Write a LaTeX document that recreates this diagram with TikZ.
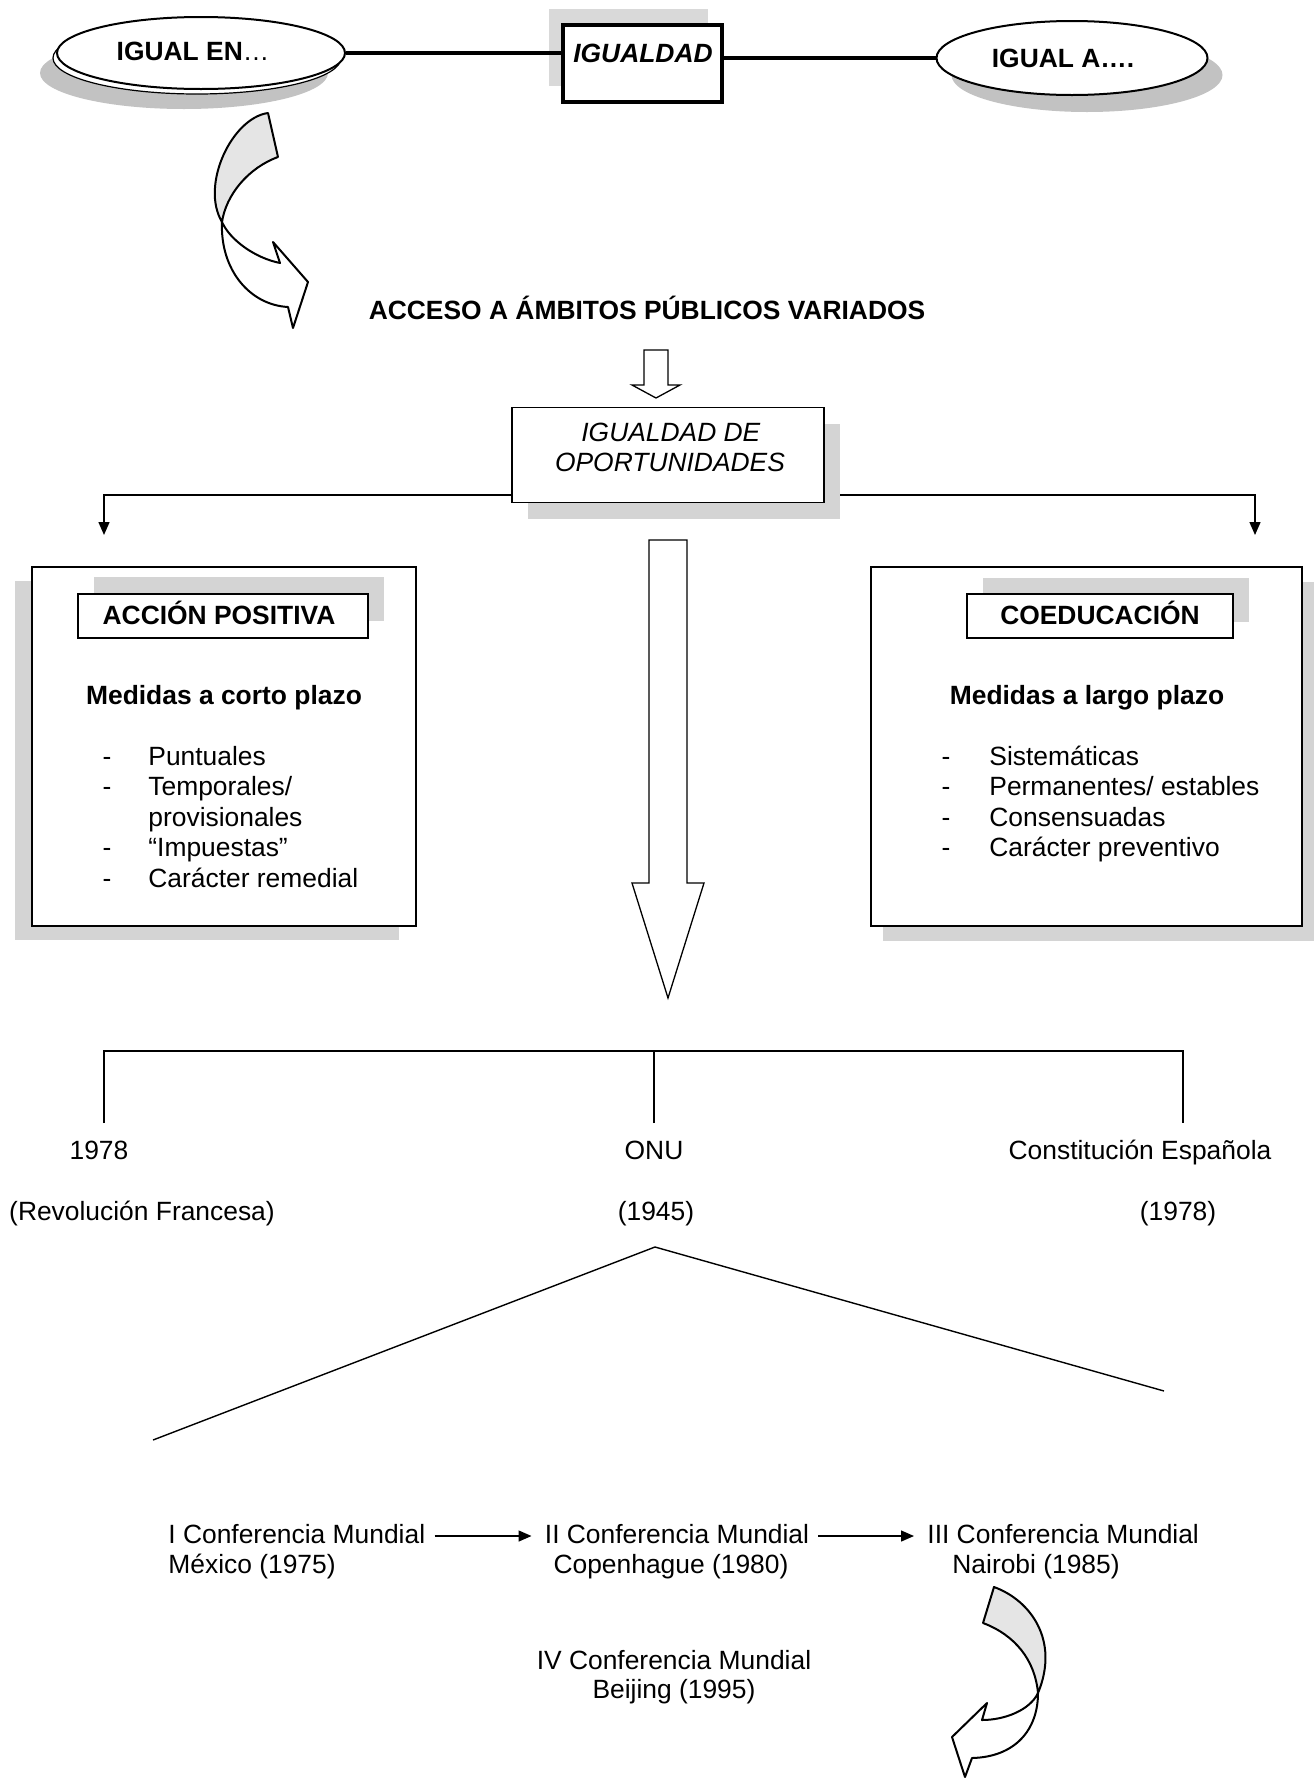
\documentclass[tikz,border=0pt]{standalone}
\usepackage{fontspec}
\setmainfont{Liberation Sans}
\usetikzlibrary{shapes.geometric,arrows.meta,calc}

\begin{document}
\begin{tikzpicture}[x=0.5pt,y=-0.5pt,
  every node/.style={font=\fontsize{13.2pt}{15.25pt}\selectfont},
  ln/.style={inner sep=0pt,text height=0.72em,text depth=0pt},
  darkshade/.style={fill=gray!48,draw=none},
  softshade/.style={fill=gray!34,draw=none},
  oval/.style={ellipse,draw,fill=white,line width=1pt,inner sep=0pt},
  frame/.style={draw,line width=0.9pt,fill=white,inner sep=0pt},
  link/.style={line width=1.7pt},
  fine/.style={line width=0.7pt},
  tip/.style={-{Triangle[length=6.5pt,width=5.5pt]}},
  ribbon/.style={draw,line width=1pt,line join=round},
  blockarrow/.style={draw,line width=0.65pt,fill=white,line join=miter}
]
% page
\fill[white] (0,0) rectangle (1313,1778);
\useasboundingbox (0,0) rectangle (1313,1778);

% ---------- top row ----------
\node[ellipse,darkshade,minimum width=144pt,minimum height=36pt,inner sep=0pt] (ienS) at (184,73) {};
\node[oval,line width=0.6pt,minimum width=144pt,minimum height=36pt] (ienR) at (197,58) {};
\node[oval,minimum width=144pt,minimum height=36pt] (ien) at (201,53) {};
\node[ln] (ienT) at (193,53) {\textbf{IGUAL EN}…};

\fill[gray!30] (549,9) rectangle (708,86);
\node[draw,line width=2pt,fill=white,minimum width=79.5pt,minimum height=38.5pt,inner sep=0pt] (ig) at (642.5,63.5) {};
\node[ln] (igT) at (643,55) {\textbf{\textit{IGUALDAD}}};

\node[ellipse,darkshade,minimum width=135.5pt,minimum height=37pt,inner sep=0pt] (igaS) at (1087,75) {};
\node[oval,minimum width=135.5pt,minimum height=37pt] (iga) at (1072,58) {};
\node[ln] (igaT) at (1063,60) {\textbf{IGUAL A….}};

\draw[link] (ien.east) -- (ien.east -| ig.west);
\draw[link] (ig.east |- iga.west) -- (iga.west);

% ---------- twisted arrow under "IGUAL EN" ----------
\path[ribbon,fill=gray!20] (268,113) .. controls (232,118) and (200,185) .. (222,222)
  .. controls (226,195) and (248,168) .. (278,157) -- cycle;
\path[ribbon,fill=white] (222,222) .. controls (230,240) and (255,258) .. (280,263)
  -- (273,242) -- (308,282) -- (293,328) -- (288,307)
  .. controls (250,305) and (220,270) .. (222,222) -- cycle;

\node[ln] (acc) at (647,312) {\textbf{ACCESO A ÁMBITOS PÚBLICOS VARIADOS}};

% small block arrow
\draw[blockarrow] (644,350) -- (668,350) -- (668,385) -- (680,385) -- (656,398)
  -- (632,385) -- (644,385) -- cycle;

% ---------- igualdad de oportunidades ----------
\node[inner sep=0pt,minimum width=156pt,minimum height=47.5pt] (igop) at (668,455) {};
\coordinate (tl) at (104,535);
\coordinate (tr) at (1255,535);
\draw[fine,tip] ($(igop.south west)+(0,-8)$) -| (tl);
\draw[fine,tip] ($(igop.south east)+(0,-8)$) -| (tr);
\fill[softshade] (528,424) rectangle (840,519);
\node[frame,minimum width=156pt,minimum height=47.5pt] (igopB) at (668,455) {};
\node[ln] (igop1) at (671,434) {\textit{IGUALDAD DE}};
\node[ln] (igop2) at (670,464) {\textit{OPORTUNIDADES}};

% ---------- left panel ----------
\fill[softshade] (15,581) rectangle (399,940);
\node[frame,minimum width=192pt,minimum height=179.5pt] (ap) at (224,746.5) {};
\fill[softshade] (94,577) rectangle (384,621);
\node[frame,minimum width=145pt,minimum height=22pt] (apB) at (223,616) {};
\node[ln] (apT) at (219,617) {\textbf{ACCIÓN POSITIVA}};
\node[ln] (apM) at (224,697) {\textbf{Medidas a corto plazo}};
\node[ln] (apd1) at (107,758) {-};
\node[ln] (apd2) at (107,788.5) {-};
\node[ln] (apd4) at (107,849.5) {-};
\node[ln] (apd5) at (107,880) {-};
\node[ln,anchor=west] (ap1) at (148,758) {Puntuales};
\node[ln,anchor=west] (ap2) at (148,788.5) {Temporales/};
\node[ln,anchor=west] (ap3) at (148,819) {provisionales};
\node[ln,anchor=west] (ap4) at (148,849.5) {“Impuestas”};
\node[ln,anchor=west] (ap5) at (148,880) {Carácter remedial};

% ---------- right panel ----------
\fill[softshade] (883,582) rectangle (1314,941);
\node[frame,minimum width=215.5pt,minimum height=179.5pt] (co) at (1086.5,746.5) {};
\fill[softshade] (983,578) rectangle (1249,622);
\node[frame,minimum width=133pt,minimum height=22pt] (coB) at (1100,616) {};
\node[ln] (coT) at (1100,617) {\textbf{COEDUCACIÓN}};
\node[ln] (coM) at (1087,697) {\textbf{Medidas a largo plazo}};
\node[ln] (cod1) at (946,758) {-};
\node[ln] (cod2) at (946,788.5) {-};
\node[ln] (cod3) at (946,819) {-};
\node[ln] (cod4) at (946,849.5) {-};
\node[ln,anchor=west] (co1) at (989,758) {Sistemáticas};
\node[ln,anchor=west] (co2) at (989,788.5) {Permanentes/ estables};
\node[ln,anchor=west] (co3) at (989,819) {Consensuadas};
\node[ln,anchor=west] (co4) at (989,849.5) {Carácter preventivo};

% ---------- long block arrow ----------
\draw[blockarrow] (649,540) -- (687,540) -- (687,883) -- (704,883) -- (668,998)
  -- (632,883) -- (649,883) -- cycle;

% ---------- three milestones ----------
\coordinate (b1) at (104,1123);
\coordinate (b2) at (654,1123);
\coordinate (b3) at (1183,1123);
\coordinate (bt1) at (104,1051);
\coordinate (bt2) at (654,1051);
\coordinate (bt3) at (1183,1051);
\draw[fine] (b1) -- (bt1) -- (bt3) -- (b3);
\draw[fine] (b2) -- (bt2);

\node[ln] (m1) at (99,1152) {1978};
\node[ln] (m2) at (654,1152) {ONU};
\node[ln] (m3) at (1140,1152) {Constitución Española};
\node[ln] (m1y) at (142,1213) {(Revolución Francesa)};
\node[ln] (m2y) at (656,1213) {(1945)};
\node[ln] (m3y) at (1178,1213) {(1978)};

\coordinate (apex) at (655,1247);
\coordinate (wl) at (153,1440);
\coordinate (wr) at (1164,1391);
\draw[fine] (wl) -- (apex) -- (wr);

% ---------- world conferences ----------
\node[ln,anchor=west] (c1a) at (168,1536) {I Conferencia Mundial};
\node[ln,anchor=west] (c1b) at (168,1566) {México (1975)};
\node[ln] (c2a) at (677,1536) {II Conferencia Mundial};
\node[ln] (c2b) at (671,1566) {Copenhague (1980)};
\node[ln,anchor=west] (c3a) at (927,1536) {III Conferencia Mundial};
\node[ln,anchor=west] (c3b) at (952,1566) {Nairobi (1985)};
\node[ln] (c4a) at (674,1662) {IV Conferencia Mundial};
\node[ln] (c4b) at (674,1691) {Beijing (1995)};

\draw[fine,tip,shorten <=4.5pt,shorten >=6.5pt] (c1a.east) -- (c2a.west);
\draw[fine,tip,shorten <=4.5pt,shorten >=6.5pt] (c2a.east) -- (c3a.west);

% ---------- twisted arrow under Nairobi ----------
\path[ribbon,fill=gray!20] (994,1587) .. controls (1030,1600) and (1060,1640) .. (1038,1693)
  .. controls (1035,1660) and (1015,1635) .. (983,1623) -- cycle;
\path[ribbon,fill=white] (1038,1693) .. controls (1030,1710) and (1005,1720) .. (982,1720)
  -- (987,1703) -- (952,1737) -- (965,1777) -- (972,1758)
  .. controls (1015,1757) and (1038,1730) .. (1038,1693) -- cycle;

\end{tikzpicture}
\end{document}
